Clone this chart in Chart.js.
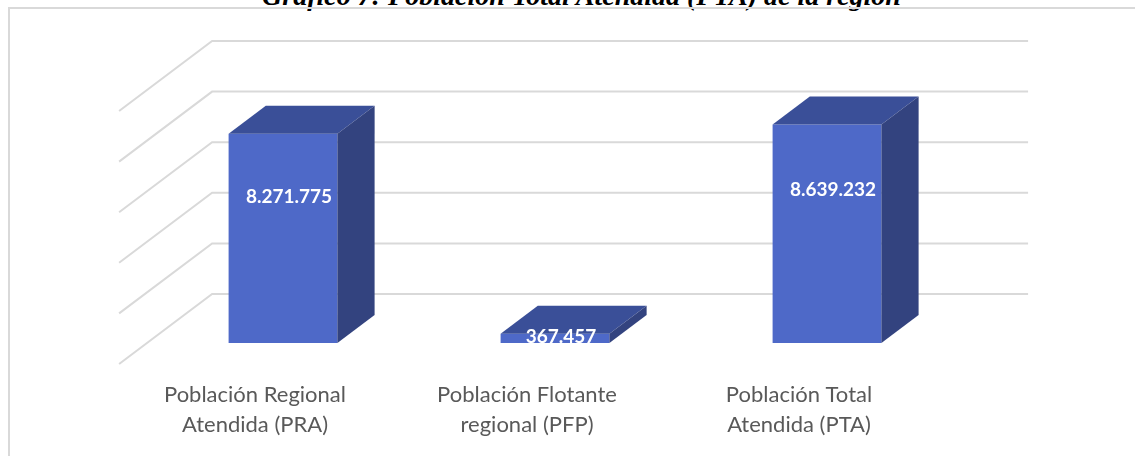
<!DOCTYPE html>
<html lang="es">
<head>
  <meta charset="UTF-8">
  <title>Población Total Atendida (PTA) de la región</title>
  <script src="https://cdn.jsdelivr.net/npm/chart.js"></script>
  <style>
    html, body { margin: 0; padding: 0; background: #fff; overflow: hidden; }
    #wrap { position: relative; width: 1135px; height: 456px; overflow: hidden; }
    /* marco gris que se sale por abajo y por la derecha */
    #frame {
      position: absolute; left: 8px; top: 7px; right: -10px; bottom: -10px;
      border-left: 2px solid #d9d9d9; border-top: 2px solid #d9d9d9;
    }
    /* titulo cortado en la parte superior */
    #titulo {
      position: absolute; left: 0; width: 1163px; top: -18px;
      text-align: center; color: #000;
      font: italic bold 28px/28px "Liberation Serif", serif;
      white-space: nowrap;
    }
    canvas { position: absolute; left: 0; top: 0; }
  </style>
</head>
<body>
  <div id="wrap">
    <div id="titulo">Gráfico 7: Población Total Atendida (PTA) de la región</div>
    <div id="frame"></div>
    <canvas id="grafico" width="1135" height="456"></canvas>
  </div>

  <script>
    // Datos
    const categorias = [
      ['Población Regional', 'Atendida (PRA)'],
      ['Población Flotante', 'regional (PFP)'],
      ['Población Total', 'Atendida (PTA)']
    ];
    const valores = [8271775, 367457, 8639232];
    const ejeY = [0, 2000000, 4000000, 6000000, 8000000, 10000000];

    // Colores de las caras del cubo
    const colorFrente = '#4e69c8';
    const colorArriba = '#3a4f98';
    const colorLado = '#33437f';

    // Profundidad del "suelo" 3D en pixeles (toda la caja)
    const prof = { dx: 93, dy: -70 };
    const frenteBarra = 0.3;  // la cara frontal de la barra esta a 0.3 de la profundidad
    const fondoBarra = 0.7;

    const formato = v => String(v).replace(/\B(?=(\d{3})+(?!\d))/g, '.');

    const tresD = {
      id: 'tresD',
      beforeDatasetsDraw(chart) {
        const { ctx, chartArea, scales } = chart;
        const y = scales.y;
        const backDx = prof.dx * (1 - frenteBarra), backDy = prof.dy * (1 - frenteBarra);
        const frontDx = -prof.dx * frenteBarra, frontDy = -prof.dy * frenteBarra;
        ctx.save();
        ctx.strokeStyle = '#d9d9d9';
        ctx.lineWidth = 2;
        ejeY.forEach(v => {
          const py = y.getPixelForValue(v);
          ctx.beginPath();
          // pared del fondo
          ctx.moveTo(chartArea.right + backDx, py + backDy);
          ctx.lineTo(chartArea.left + backDx, py + backDy);
          // pared lateral
          ctx.lineTo(chartArea.left + frontDx, py + frontDy);
          ctx.stroke();
        });
        ctx.restore();
      },
      afterDatasetsDraw(chart) {
        const { ctx } = chart;
        const meta = chart.getDatasetMeta(0);
        const dx = prof.dx * (fondoBarra - frenteBarra);
        const dy = prof.dy * (fondoBarra - frenteBarra);
        ctx.save();
        meta.data.forEach((bar, i) => {
          const p = bar.getProps(['x', 'y', 'base', 'width'], true);
          const L = p.x - p.width / 2, R = p.x + p.width / 2;
          // cara superior
          ctx.fillStyle = colorArriba;
          ctx.beginPath();
          ctx.moveTo(L, p.y);
          ctx.lineTo(R, p.y);
          ctx.lineTo(R + dx, p.y + dy);
          ctx.lineTo(L + dx, p.y + dy);
          ctx.closePath();
          ctx.fill();
          // cara lateral
          ctx.fillStyle = colorLado;
          ctx.beginPath();
          ctx.moveTo(R, p.y);
          ctx.lineTo(R + dx, p.y + dy);
          ctx.lineTo(R + dx, p.base + dy);
          ctx.lineTo(R, p.base);
          ctx.closePath();
          ctx.fill();
          // etiqueta
          ctx.fillStyle = '#ffffff';
          ctx.font = 'bold 19px Lato';
          ctx.textAlign = 'center';
          ctx.textBaseline = 'middle';
          ctx.fillText(formato(valores[i]), p.x + 6, p.y + 0.3 * (p.base - p.y));
        });
        ctx.restore();
      }
    };

    const ctx = document.getElementById('grafico').getContext('2d');
    new Chart(ctx, {
      type: 'bar',
      data: {
        labels: categorias,
        datasets: [{
          data: valores,
          backgroundColor: colorFrente,
          borderWidth: 0,
          categoryPercentage: 1,
          barPercentage: 0.4
        }]
      },
      options: {
        responsive: false,
        animation: false,
        layout: { padding: { left: 147, right: 172, top: 90, bottom: 0 } },
        plugins: {
          legend: { display: false },
          tooltip: { enabled: false },
          title: { display: false }
        },
        scales: {
          x: {
            grid: { display: false, drawTicks: false },
            border: { display: false },
            afterFit: axis => { axis.height = 113; },
            ticks: {
              padding: 37,
              labelOffset: -28,
              color: '#595959',
              font: { family: 'Lato', size: 22, lineHeight: 1.36 }
            }
          },
          y: {
            display: false,
            min: 0,
            max: 10000000,
            ticks: { stepSize: 2000000 }
          }
        }
      },
      plugins: [tresD]
    });
  </script>
</body>
</html>
